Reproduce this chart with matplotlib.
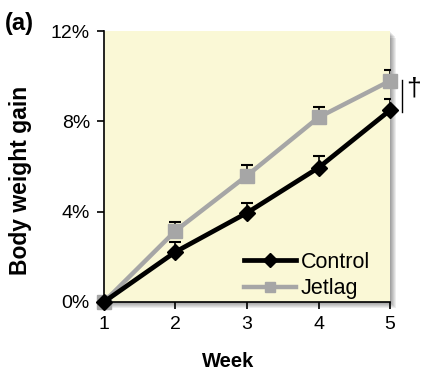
import matplotlib.pyplot as plt
from matplotlib.patches import Rectangle
import numpy as np

plt.rcParams['font.family'] = ['Liberation Sans', 'DejaVu Sans']

weeks = [1, 2, 3, 4, 5]
control = [0.0, 2.22, 3.95, 5.95, 8.5]
control_err = [0.0, 0.45, 0.45, 0.5, 0.5]
jetlag = [0.0, 3.15, 5.6, 8.18, 9.8]
jetlag_err = [0.0, 0.4, 0.45, 0.45, 0.5]
y_ticks = [0, 4, 8, 12]

fig = plt.figure(figsize=(4.24, 3.85), dpi=100)
x0, y0, w, h = 0.245, 0.2156, 0.675, 0.7034
ax = fig.add_axes([x0, y0, w, h])

# soft drop shadow on the right and bottom of the plot area
for i in range(6):
    d = (i + 1) * 0.0025
    fig.patches.append(Rectangle((x0 + d, y0 - d * 1.1), w, h, transform=fig.transFigure,
                                 facecolor='#000000', alpha=0.07, edgecolor='none', zorder=0))

ax.set_facecolor('#FAF8D6')
ax.set_zorder(1)

ax.errorbar(weeks, jetlag, yerr=[np.zeros(5), jetlag_err], fmt='none', ecolor='black',
            elinewidth=1.2, capsize=4, capthick=1.5, zorder=2)
ax.errorbar(weeks, control, yerr=[np.zeros(5), control_err], fmt='none', ecolor='black',
            elinewidth=1.2, capsize=4, capthick=1.5, zorder=2)
ax.plot(weeks, jetlag, color='#A6A6A6', lw=3.2, marker='s', ms=9.5, label='Jetlag', zorder=3,
        clip_on=False)
ax.plot(weeks, control, color='black', lw=3.4, marker='D', ms=8.5, label='Control', zorder=4,
        clip_on=False)

ax.set_xlim(1, 5)
ax.set_ylim(0, 12)
ax.set_xticks(weeks)
ax.set_yticks(y_ticks)
ax.set_yticklabels([f'{t}%' for t in y_ticks])
ax.tick_params(labelsize=14, direction='out', length=5, width=1.2, pad=5)
for s in ['top', 'right']:
    ax.spines[s].set_visible(False)
for s in ['left', 'bottom']:
    ax.spines[s].set_linewidth(1.2)

fig.text(0.538, 0.06, 'Week', fontsize=14.5, fontweight='bold', ha='center', va='center')
fig.text(0.048, 0.532, 'Body weight gain', fontsize=16.5, fontweight='bold', rotation=90,
         ha='center', va='center')

handles, labels = ax.get_legend_handles_labels()
leg = ax.legend(handles[::-1], labels[::-1], loc='lower right', frameon=False, fontsize=15.5,
                handlelength=2.45, handletextpad=0.2, labelspacing=0.25,
                bbox_to_anchor=(0.997, -0.062), markerscale=0.8)

# significance marker next to week 5
ax.plot([1.042, 1.042], [0.70, 0.82], transform=ax.transAxes, color='black', lw=1,
        clip_on=False)
ax.text(1.055, 0.79, '†', transform=ax.transAxes, fontsize=19, va='center', ha='left')

fig.text(0.012, 0.94, '(a)', fontsize=17, fontweight='bold', va='center')

fig.savefig('out.png', dpi=100)
